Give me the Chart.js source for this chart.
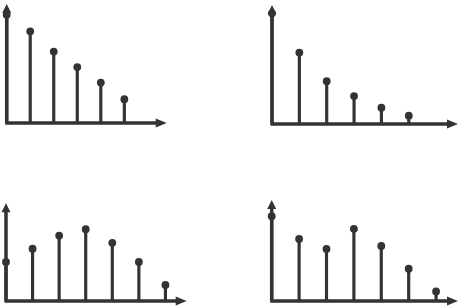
<!DOCTYPE html>
<html>
<head>
<meta charset="utf-8">
<script src="https://cdn.jsdelivr.net/npm/chart.js"></script>
<style>
  html, body { margin: 0; padding: 0; background: #fff; }
  #wrap { position: relative; width: 462px; height: 308px; }
  #wrap canvas { position: absolute; }
</style>
</head>
<body>
<div id="wrap">
  <canvas id="c1" width="231" height="154" style="left:0;top:0"></canvas>
  <canvas id="c2" width="231" height="154" style="left:231px;top:0"></canvas>
  <canvas id="c3" width="231" height="154" style="left:0;top:154px"></canvas>
  <canvas id="c4" width="231" height="154" style="left:231px;top:154px"></canvas>
</div>
<script>
const INK = "#333333";

// stem positions (n) and heights for each panel
const steps1 = [0, 1, 2, 3, 4, 5];
const values1 = [9.1, 7.7, 6.0, 4.7, 3.4, 2.0];

const steps2 = [0, 1, 2, 3, 4, 5];
const values2 = [9.3, 6.0, 3.6, 2.35, 1.37, 0.7];

const steps3 = [0, 1, 2, 3, 4, 5, 6];
const values3 = [4.0, 5.35, 6.7, 7.35, 5.95, 4.0, 1.65];

const steps4 = [0, 1, 2, 3, 4, 5, 6];
const values4 = [8.4, 6.15, 5.15, 7.15, 5.45, 3.2, 0.95];

// axes with arrow heads, drawn along the chart area edges
const arrowAxes = {
  id: "arrowAxes",
  afterDatasetsDraw(chart) {
    const { ctx, chartArea: a } = chart;
    const headX = 11, headY = 9, half = 4.5;
    ctx.save();
    ctx.strokeStyle = INK;
    ctx.fillStyle = INK;
    ctx.lineWidth = 3.5;
    ctx.beginPath();
    ctx.moveTo(a.left - 1.5, a.bottom);
    ctx.lineTo(a.right - headX + 1, a.bottom);
    ctx.moveTo(a.left, a.bottom);
    ctx.lineTo(a.left, a.top + headY - 1);
    ctx.stroke();
    ctx.beginPath();
    ctx.moveTo(a.right, a.bottom);
    ctx.lineTo(a.right - headX, a.bottom - half);
    ctx.lineTo(a.right - headX, a.bottom + half);
    ctx.closePath();
    ctx.moveTo(a.left, a.top);
    ctx.lineTo(a.left - half, a.top + headY);
    ctx.lineTo(a.left + half, a.top + headY);
    ctx.closePath();
    ctx.fill();
    ctx.restore();
  }
};

function stemChart(id, steps, values, pad) {
  const pts = steps.map((s, i) => ({ x: s, y: values[i] }));
  new Chart(document.getElementById(id), {
    type: "bar",
    data: {
      datasets: [
        {
          type: "scatter",
          data: pts,
          pointRadius: 3.9,
          pointBackgroundColor: INK,
          pointBorderWidth: 0,
          clip: false,
          order: 0
        },
        {
          type: "bar",
          data: pts,
          backgroundColor: INK,
          barThickness: 2.5,
          clip: false,
          order: 1
        }
      ]
    },
    options: {
      responsive: false,
      animation: false,
      layout: { padding: pad },
      plugins: { legend: { display: false }, tooltip: { enabled: false } },
      scales: {
        x: { type: "linear", min: 0, max: 6.8, offset: false, display: false },
        y: { min: 0, max: 10, display: false }
      }
    },
    plugins: [arrowAxes]
  });
}

stemChart("c1", steps1, values1, { left: 6.7, top: 1, right: 64.3, bottom: 31 });
stemChart("c2", steps2, values2, { left: 41, top: 5, right: 2, bottom: 30 });
stemChart("c3", steps3, values3, { left: 6, top: 49.3, right: 44.3, bottom: 7 });
stemChart("c4", steps4, values4, { left: 40.7, top: 46, right: 2, bottom: 7 });
</script>
</body>
</html>
